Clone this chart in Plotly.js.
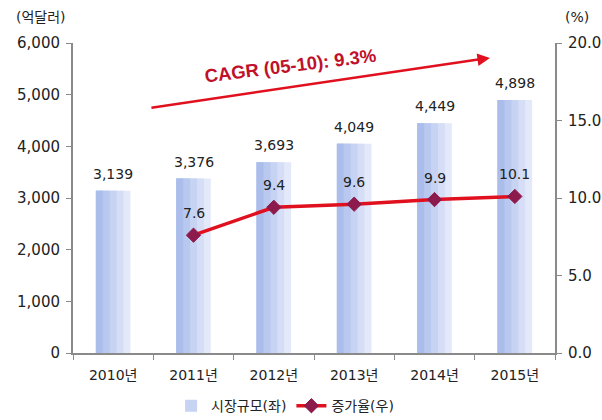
<!DOCTYPE html>
<html>
<head>
<meta charset="utf-8">
<script src="https://cdn.plot.ly/plotly-3.0.1.min.js"></script>
<style>html,body{margin:0;padding:0;background:#fff}#chart{width:602px;height:420px}</style>
</head>
<body>
<div id="chart"></div>
<script>
const categories = ['2010년','2011년','2012년','2013년','2014년','2015년'];
const marketSize = [3139, 3376, 3693, 4049, 4449, 4898];
const growthRate = [null, 7.6, 9.4, 9.6, 9.9, 10.1];
const leftTicks = [0, 1000, 2000, 3000, 4000, 5000, 6000];
const rightTicks = [0, 5, 10, 15, 20];
const cagrLabel = 'CAGR (05-10): 9.3%';

const font = '"DejaVu Sans", "Noto Sans CJK KR", sans-serif';
const txt = '#222';
const barW = 0.43;
const strips = [
  {w: 1.0, c: '#e3e9f9'},
  {w: 0.8, c: '#d5def6'},
  {w: 0.6, c: '#c6d3f2'},
  {w: 0.4, c: '#b8c8ef'},
  {w: 0.2, c: '#abbeeb'}
];
const traces = strips.map((s, i) => ({
  type: 'bar',
  x: categories,
  y: marketSize,
  width: barW * s.w,
  offset: -barW / 2,
  marker: {color: s.c, line: {width: 0}},
  name: '시장규모(좌)',
  showlegend: i === 2,
  legendgroup: 'bar',
  hoverinfo: 'skip'
}));
traces.push({
  type: 'scatter',
  mode: 'lines+markers',
  x: categories,
  y: growthRate,
  yaxis: 'y2',
  name: '증가율(우)',
  line: {color: '#e0101f', width: 3.5},
  marker: {symbol: 'diamond', size: 11, color: '#8c1a4c', line: {color: '#8c1a4c', width: 1}},
  cliponaxis: false
});

const annotations = [];
categories.forEach((c, i) => {
  annotations.push({x: c, y: marketSize[i], xref: 'x', yref: 'y', text: marketSize[i].toLocaleString('en-US'),
    showarrow: false, yanchor: 'middle', yshift: 17, font: {family: font, size: 14, color: txt}});
  if (growthRate[i] !== null) {
    annotations.push({x: c, y: growthRate[i], xref: 'x', yref: 'y2', text: growthRate[i].toFixed(1),
      showarrow: false, yanchor: 'middle', yshift: 22, font: {family: font, size: 14, color: txt}});
  }
});
annotations.push(
  {text: '(억달러)', xref: 'paper', yref: 'paper', x: -0.066, y: 1.084, xanchor: 'center', yanchor: 'middle', showarrow: false, font: {family: font, size: 14, color: txt}},
  {text: '(%)', xref: 'paper', yref: 'paper', x: 1.046, y: 1.084, xanchor: 'center', yanchor: 'middle', showarrow: false, font: {family: font, size: 14, color: txt}},
  {text: '', xref: 'paper', yref: 'paper', x: 0.865, y: 0.952, ax: -340, ay: 50, showarrow: true, arrowhead: 2, arrowsize: 1, arrowwidth: 2.5, arrowcolor: '#e0101f'},
  {text: '<b>' + cagrLabel + '</b>', xref: 'paper', yref: 'paper', x: 0.452, y: 0.926, xanchor: 'center', yanchor: 'middle', textangle: -7, showarrow: false, font: {family: '"Liberation Sans", Arial, sans-serif', size: 18.5, color: '#c0102a'}}
);

const layout = {
  width: 602, height: 420,
  margin: {l: 73, r: 47, t: 43, b: 67},
  paper_bgcolor: '#fff', plot_bgcolor: '#fff',
  font: {family: font, size: 14, color: txt},
  barmode: 'overlay',
  xaxis: {
    type: 'category',
    showline: true, linecolor: '#8a8a8a', linewidth: 2,
    ticks: 'outside', tickson: 'boundaries', ticklen: 5, tickcolor: '#8a8a8a',
    ticklabelstandoff: 8,
    tickfont: {family: font, size: 14, color: txt},
    showgrid: false, zeroline: false
  },
  yaxis: {
    range: [0, 6000], tickvals: leftTicks, ticktext: leftTicks.map(v => v.toLocaleString('en-US')),
    showline: true, linecolor: '#8a8a8a', linewidth: 2,
    ticks: 'outside', ticklen: 5, tickcolor: '#8a8a8a', ticklabelstandoff: 3,
    showgrid: false, zeroline: false,
    tickfont: {family: font, size: 15, color: txt}
  },
  yaxis2: {
    overlaying: 'y', side: 'right',
    range: [0, 20], tickvals: rightTicks, ticktext: rightTicks.map(v => v.toFixed(1)),
    showline: true, linecolor: '#8a8a8a', linewidth: 2,
    ticks: 'outside', ticklen: 5, tickcolor: '#8a8a8a', ticklabelstandoff: 3,
    showgrid: false, zeroline: false,
    tickfont: {family: font, size: 15, color: txt}
  },
  legend: {
    orientation: 'h', x: 0.44, xanchor: 'center', yref: 'container', y: 0.033, yanchor: 'middle',
    font: {family: font, size: 14, color: txt},
    traceorder: 'normal'
  },
  annotations: annotations
};
Plotly.newPlot('chart', traces, layout, {displayModeBar: false, staticPlot: true});
</script>
</body>
</html>
